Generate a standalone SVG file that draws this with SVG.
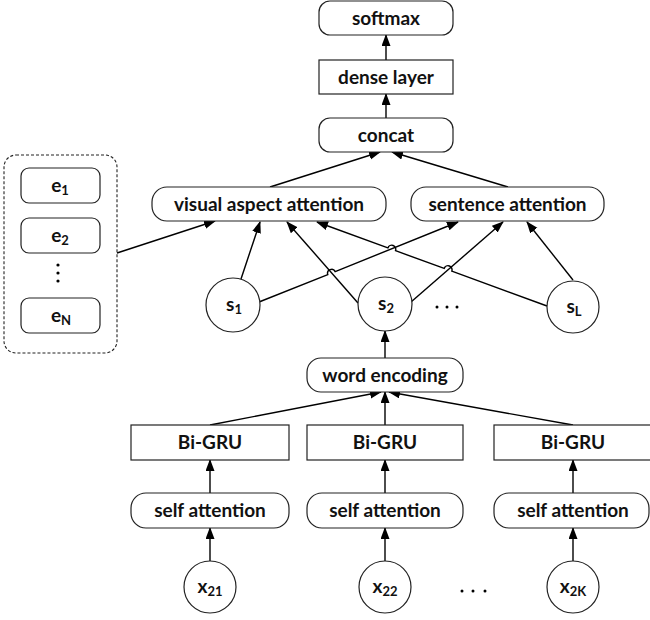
<svg xmlns="http://www.w3.org/2000/svg" width="650" height="620" viewBox="0 0 650 620">
<defs>
<marker id="ah" markerUnits="userSpaceOnUse" markerWidth="12" markerHeight="10" refX="11" refY="4.5" orient="auto">
<path d="M0,0 L12,4.5 L0,9 Z" fill="#000"/>
</marker>
<style>
.b{fill:#fff;stroke:#222;stroke-width:1.2}
.t{font-family:"Lato","Liberation Sans",sans-serif;font-size:19px;font-weight:bold;fill:#111;text-anchor:middle}
.s{font-size:13px}
.c{fill:none;stroke:#000;stroke-width:1.4;marker-end:url(#ah)}
.d{fill:#000}
</style>
</defs>
<rect width="650" height="620" fill="#fff"/>

<g id="connectors">
<path class="c" d="M386,60 L386,35"/>
<path class="c" d="M386,118 L386,94"/>
<path class="c" d="M270,187 L380,152"/>
<path class="c" d="M508,187 L392,152"/>
<path class="c" d="M117,253 L215,221"/>
<path class="c" d="M241,279 L260,222"/>
<path class="c" d="M358,303 L287,222"/>
<path class="c" d="M259,302 L327.8,274.6 A4,4 0 0 1 335.2,271.6 L458,222"/>
<path class="c" d="M411,302 L503,222"/>
<path class="c" d="M547,306 L451.8,271.2 A4,4 0 0 0 444.2,268.4 L395.5,250.7 A4,4 0 0 0 387.9,247.9 L317,222"/>
<path class="c" d="M573,280 L527,222"/>
<path class="c" d="M385,358 L385,331"/>
<path class="c" d="M210,425 L381,392"/>
<path class="c" d="M385,425 L385,392"/>
<path class="c" d="M573,425 L389,392"/>
<path class="c" d="M210,493 L210,460"/>
<path class="c" d="M385,493 L385,460"/>
<path class="c" d="M573,493 L573,460"/>
<path class="c" d="M210,561 L210,528"/>
<path class="c" d="M385,561 L385,528"/>
<path class="c" d="M573,561 L573,528"/>
</g>

<g id="softmax"><rect class="b" x="319" y="1" width="134" height="34" rx="11"/><text class="t" x="386" y="24.5">softmax</text></g>
<g id="dense"><rect class="b" x="319" y="60" width="134" height="34"/><text class="t" x="386" y="83.5">dense layer</text></g>
<g id="concat"><rect class="b" x="319" y="118" width="134" height="34" rx="11"/><text class="t" x="386" y="141.5">concat</text></g>
<g id="visual-aspect-attention"><rect class="b" x="152" y="187" width="234" height="34" rx="15"/><text class="t" x="269" y="210.5">visual aspect attention</text></g>
<g id="sentence-attention"><rect class="b" x="411" y="187" width="193" height="34" rx="15"/><text class="t" x="507.5" y="210.5">sentence attention</text></g>

<g id="images">
<rect x="4" y="155" width="113" height="198" rx="12" fill="none" stroke="#222" stroke-width="1.1" stroke-dasharray="3 2"/>
<g id="e1"><rect class="b" x="21" y="168" width="79" height="35" rx="8"/><text class="t" x="60" y="191.5">e<tspan class="s" dy="3">1</tspan></text></g>
<g id="e2"><rect class="b" x="21" y="218" width="79" height="35" rx="8"/><text class="t" x="60" y="241.5">e<tspan class="s" dy="3">2</tspan></text></g>
<circle class="d" cx="58" cy="265" r="1.6"/><circle class="d" cx="58" cy="273" r="1.6"/><circle class="d" cx="58" cy="281" r="1.6"/>
<g id="eN"><rect class="b" x="21" y="298" width="79" height="35" rx="8"/><text class="t" x="61" y="321.5">e<tspan class="s" dy="3">N</tspan></text></g>
</g>

<g id="s1"><circle class="b" cx="233" cy="305" r="27"/><text class="t" x="234" y="311">s<tspan class="s" dy="3">1</tspan></text></g>
<g id="s2"><circle class="b" cx="385" cy="304" r="27"/><text class="t" x="386" y="310">s<tspan class="s" dy="3">2</tspan></text></g>
<g id="sL"><circle class="b" cx="573" cy="307" r="26"/><text class="t" x="574" y="313">s<tspan class="s" dy="3">L</tspan></text></g>
<g id="s-dots"><circle class="d" cx="437" cy="307" r="1.5"/><circle class="d" cx="447" cy="307" r="1.5"/><circle class="d" cx="457" cy="307" r="1.5"/></g>

<g id="word-encoding"><rect class="b" x="307" y="358" width="156" height="34" rx="14"/><text class="t" x="385" y="381.5">word encoding</text></g>

<g id="bigru1"><rect class="b" x="131" y="425" width="158" height="35"/><text class="t" x="210" y="449">Bi-GRU</text></g>
<g id="bigru2"><rect class="b" x="307" y="425" width="156" height="35"/><text class="t" x="385" y="449">Bi-GRU</text></g>
<g id="bigru3"><rect class="b" x="494" y="425" width="160" height="35"/><text class="t" x="573" y="449">Bi-GRU</text></g>

<g id="self1"><rect class="b" x="131" y="493" width="158" height="35" rx="15"/><text class="t" x="210" y="517">self attention</text></g>
<g id="self2"><rect class="b" x="307" y="493" width="156" height="35" rx="15"/><text class="t" x="385" y="517">self attention</text></g>
<g id="self3"><rect class="b" x="494" y="493" width="155" height="35" rx="15"/><text class="t" x="573" y="517">self attention</text></g>

<g id="x21"><circle class="b" cx="210" cy="587" r="26"/><text class="t" x="210" y="593">x<tspan class="s" dy="3">21</tspan></text></g>
<g id="x22"><circle class="b" cx="385" cy="587" r="26"/><text class="t" x="385" y="593">x<tspan class="s" dy="3">22</tspan></text></g>
<g id="x2K"><circle class="b" cx="573" cy="587" r="26"/><text class="t" x="573" y="593">x<tspan class="s" dy="3">2K</tspan></text></g>
<g id="x-dots"><circle class="d" cx="462" cy="591" r="1.5"/><circle class="d" cx="473" cy="591" r="1.5"/><circle class="d" cx="485" cy="591" r="1.5"/></g>
</svg>
